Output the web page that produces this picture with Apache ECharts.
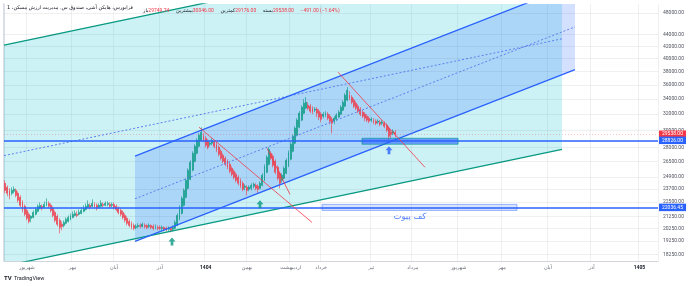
<!DOCTYPE html>
<html>
<head>
<meta charset="utf-8">
<script src="https://cdn.jsdelivr.net/npm/echarts@6/dist/echarts.min.js"></script>
<style>
  html, body { margin: 0; padding: 0; background: #fff; }
  #chart { width: 690px; height: 286px; }
</style>
</head>
<body>
<div id="chart"></div>
<script>
// Heikin Ashi daily candles
const haOpen = [
  24270,23880,23590,23310,23500,23590,23310,22940,22480,22130,
  21770,21430,21090,21170,21430,21690,21950,22130,22040,22220,
  22390,22220,21950,21600,21260,20920,20590,20500,20670,20830,
  21000,21170,21340,21430,21430,21510,21690,21860,22040,22220,
  22130,22300,22220,22040,22130,22300,22220,22300,22300,22220,
  22300,22130,21950,21770,21600,21340,21090,20830,20670,20500,
  20340,20420,20500,20420,20500,20500,20420,20500,20420,20340,
  20340,20340,20260,20340,20260,20180,20260,20180,20260,20500,
  21000,21510,22220,22940,23780,24660,25570,26500,27370,28150,
  28840,29300,29070,28720,28380,28490,28610,28380,28040,27590,
  27150,26830,26510,26190,25770,25460,25160,24860,24560,24270,
  23880,23880,23690,23780,23980,24070,23980,23780,24070,24560,
  25360,26190,27370,27040,26510,25880,25260,24560,24760,25260,
  25980,26720,27590,28490,29420,30380,31250,32140,32790,33180,
  33050,32790,32530,32660,32400,32010,31750,31880,32010,31750,
  31370,31120,31370,31630,32010,32530,33050,33860,34540,34270,
  33860,33450,33050,32660,32270,32010,31750,31500,31250,31250,
  31120,31000,31000,30870,30870,30630,30260,29780,29660,29749.74
];
const haClose = [
  23590,23310,23030,23590,23690,23120,22670,22220,21770,21430,
  21090,20830,21260,21600,21860,22130,22220,21950,22300,22480,
  22130,21770,21340,20920,20590,20340,20420,20750,21000,21170,
  21260,21430,21510,21340,21600,21770,21950,22130,22300,22040,
  22390,22130,21950,22220,22390,22220,22390,22390,22130,22300,
  22040,21860,21600,21430,21170,20920,20670,20500,20340,20260,
  20420,20500,20420,20590,20420,20340,20500,20340,20260,20420,
  20260,20260,20340,20180,20180,20260,20100,20340,20750,21340,
  22040,22850,23590,24560,25570,26400,27370,28150,28840,29420,
  29780,28840,28260,28040,28490,28720,28150,27700,27260,26830,
  26510,26190,25880,25460,25160,24860,24560,24270,23980,23690,
  23980,23590,23880,24070,24170,23780,23690,24270,25060,25980,
  26930,27810,26830,26080,25360,24760,24270,25060,25770,26610,
  27480,28380,29300,30260,31250,32140,32920,33450,33590,32790,
  32400,32270,32660,32140,31630,31370,32010,32140,31500,31120,
  30870,31500,31880,32270,32920,33590,34540,35240,34130,33590,
  33050,32790,32400,32010,31750,31500,31250,31120,31370,31000,
  30870,31120,30750,31000,30500,30020,29300,29540,29900,29538
];
const haLow = [
  23310,23030,22760,23120,23310,22940,22480,22040,21600,21260,
  20920,20670,20750,21090,21340,21600,21860,21770,21950,22130,
  21950,21600,21170,20750,20420,19860,20100,20340,20590,20750,
  20920,21090,21260,21170,21340,21430,21600,21770,21950,21860,
  22040,21950,21770,21950,22040,22040,22130,22130,21950,22040,
  21860,21690,21430,21260,21000,20750,20500,20340,20180,20100,
  20180,20260,20260,20340,20260,20180,20260,20180,20100,20180,
  20100,20100,20100,20020,20020,20020,19940,20020,20180,20420,
  20920,21430,22130,22850,23690,24560,25460,26400,27260,28040,
  28720,28610,28040,27810,28150,28260,27930,27480,27040,26610,
  26290,25980,25670,25260,24960,24660,24360,24070,23780,23500,
  23590,23120,23500,23590,23780,23590,23310,23690,23980,24460,
  25260,26080,26610,25880,25160,24560,23780,24360,24660,25160,
  25880,26610,27480,28380,29300,30260,31120,32010,32660,32530,
  32140,32010,32270,31630,31250,31000,31500,31630,31250,30750,
  29660,30750,31120,31500,31880,32400,32920,33720,33860,33320,
  32790,32530,32140,31750,31500,31120,31000,30870,31000,30750,
  30630,30750,30500,30630,30260,29780,28840,29070,29420,29176
];
const haHigh = [
  24560,24070,23780,23880,23980,23780,23500,23120,22670,22300,
  21950,21600,21340,21770,22040,22300,22480,22300,22570,22850,
  22570,22390,22130,21770,21430,21090,20830,20920,21170,21340,
  21510,21690,21770,21690,21860,22040,22220,22390,22670,22390,
  22760,22480,22390,22390,22670,22480,22570,22570,22480,22480,
  22480,22300,22130,21950,21770,21510,21260,21000,20830,20670,
  20590,20670,20670,20750,20670,20590,20670,20590,20590,20590,
  20500,20500,20500,20420,20420,20420,20340,20500,20920,21510,
  22220,23030,23780,24760,25770,26610,27590,28380,29070,29660,
  30380,29660,29300,28950,28720,29070,28840,28610,28260,27810,
  27370,27040,26720,26400,25980,25670,25360,25060,24760,24460,
  24170,24070,24070,24270,24360,24270,24170,24460,25260,26190,
  27150,28040,27590,27260,26720,26080,25460,25260,25980,26830,
  27700,28610,29540,30500,31500,32400,33180,33990,34270,33590,
  33320,33050,32920,32920,32660,32270,32270,32400,32270,32010,
  31630,31750,32140,32530,33180,33860,34820,35670,35100,34540,
  34130,33720,33320,32920,32530,32270,32010,31750,31630,31500,
  31370,31370,31250,31250,31120,30870,30500,30020,30140,30046
];

// time scale: bar slots across the plot (past bars + empty future)
const barSlots = 300;
const monthNames = ['شهریور','مهر','آبان','آذر','1404','بهمن','اردیبهشت','خرداد','تیر','مرداد','شهریور','مهر','آبان','آذر','1405'];
const monthBars = [10, 31, 50, 71, 92, 111, 131, 145, 168, 187, 208, 228, 249, 269, 291];

// price scale labels (log scale)
const priceTicks = [18250,19250,20250,21250,22500,23700,24900,26500,28000,30000,32000,34000,36000,38000,40000,42000,44000,48000];
const priceMin = 17778;
const priceMax = 49765;

// drawings, as [bar position, price]
const cyanUpper = [[0, 42215], [255.96, 67400]];
const cyanLower = [[0, 17412], [255.96, 27800]];
const cyanMid = [[0, 27111], [255.96, 43288]];
const blueUpper = [[60.09, 27057], [261.93, 53870]];
const blueLower = [[60.09, 19226], [261.93, 38278]];
const blueMid = [[60.09, 22810], [261.93, 45414]];
const trendA = [[89.45, 30379], [141.28, 20750]];
const trendB = [[120.64, 27923], [131.19, 23216]];
const trendC = [[153.21, 37880], [193.12, 25874]];
// boxes: [from bar, to bar, low price, high price]
const supportBox = [[164.2, 208.3, 28375, 29066]];
const pivotBox = [[145.9, 235.3, 21773, 22303]];
const pivotText = [[186.2, 21255]];
const greenArrows = [[77.06, 19226], [117.43, 22304]];
const blueArrows = [[176.6, 27701]];

// levels shown on the price scale
const closeLevel = 29538;
const blueLevels = [28826, 22036.45];

const UP = '#089981', DOWN = '#f23645', BLUE = '#2962ff';

const chart = echarts.init(document.getElementById('chart'));
const cats = Array.from({ length: barSlots }, (_, i) => String(i));
const candles = haOpen.map((o, i) => [o, haClose[i], haLow[i], haHigh[i]]);

const polygon = (pts, fill, z) => ({
  type: 'custom', xAxisIndex: 1, clip: true, z, silent: true,
  data: [cyanUpper[0]], encode: { x: 0, y: 1 },
  renderItem: (params, api) => ({
    type: 'polygon',
    shape: { points: pts.map(p => api.coord(p)) },
    style: { fill }
  })
});

const seg = (pts, color, width, type, z) => ({
  type: 'line', xAxisIndex: 1, data: pts, symbol: 'none', silent: true, z,
  lineStyle: { color, width, type }
});

const box = (rows, fill, stroke, z) => ({
  type: 'custom', xAxisIndex: 1, clip: true, z, silent: true,
  data: rows, encode: { x: [0, 1], y: [2, 3] },
  renderItem: (params, api) => {
    const a = api.coord([api.value(0), api.value(3)]);
    const b = api.coord([api.value(1), api.value(2)]);
    return {
      type: 'rect',
      shape: { x: a[0], y: a[1], width: b[0] - a[0], height: b[1] - a[1] },
      style: { fill, stroke, lineWidth: 1 }
    };
  }
});

const arrowPath = 'path://M5,0 L10,5 L7,5 L7,10 L3,10 L3,5 L0,5 Z';

const option = {
  animation: false,
  grid: { left: 4, right: 32, top: 4, bottom: 25 },
  xAxis: [
    {
      type: 'category', data: cats, boundaryGap: true,
      axisLine: { show: true, lineStyle: { color: '#d1d4dc', width: 1 } },
      axisTick: { show: false },
      axisLabel: {
        interval: (i) => monthBars.includes(i),
        formatter: (v, i) => {
          const k = monthBars.indexOf(+v);
          const t = monthNames[k] || '';
          return /^\d+$/.test(t) ? '{y|' + t + '}' : t;
        },
        fontSize: 5, color: '#6a6d78', margin: 4, fontFamily: 'DejaVu Sans',
        rich: { y: { fontSize: 5, color: '#131722', fontWeight: 'bold', fontFamily: 'Roboto' } }
      },
      splitLine: { show: true, interval: (i) => monthBars.includes(i), lineStyle: { color: 'rgba(42,46,57,0.07)', width: 1 } }
    },
    { type: 'value', min: 0, max: barSlots, show: false }
  ],
  yAxis: {
    type: 'log', logBase: 10, position: 'right', min: priceMin, max: priceMax,
    axisLine: { show: true, lineStyle: { color: '#d1d4dc', width: 1.5 } },
    axisTick: { show: false }, axisLabel: { show: false }, splitLine: { show: false }
  },
  series: [
    // price grid lines and scale labels
    {
      type: 'line', xAxisIndex: 1, data: [[0, 30000]], symbol: 'none', z: 0, silent: true,
      lineStyle: { opacity: 0 },
      markLine: {
        silent: true, symbol: ['none', 'none'], animation: false,
        lineStyle: { color: 'rgba(42,46,57,0.07)', width: 1, type: 'solid' },
        label: { position: 'end', distance: 5, formatter: p => p.value.toFixed(2), fontSize: 5, color: '#50535e', fontFamily: 'Roboto' },
        emphasis: { disabled: true },
        data: priceTicks.map(v => ({ yAxis: v }))
      }
    },
    polygon([cyanUpper[0], cyanUpper[1], cyanLower[1], cyanLower[0]], 'rgba(0,188,212,0.2)', 1),
    polygon([blueUpper[0], blueUpper[1], blueLower[1], blueLower[0]], 'rgba(41,98,255,0.2)', 1),
    {
      type: 'candlestick', data: candles, barWidth: 1.4, z: 3, silent: true,
      itemStyle: { color: UP, color0: DOWN, borderColor: UP, borderColor0: DOWN, borderWidth: 0.6 }
    },
    seg(cyanUpper, UP, 1.3, 'solid', 4),
    seg(cyanLower, UP, 1.3, 'solid', 4),
    seg(cyanMid, '#5b7ff0', 1, [2, 2], 4),
    seg(blueUpper, BLUE, 1.3, 'solid', 4),
    seg(blueLower, BLUE, 1.3, 'solid', 4),
    seg(blueMid, '#5b7ff0', 1, [2, 2], 4),
    seg(trendA, DOWN, 0.8, 'solid', 5),
    seg(trendB, DOWN, 0.8, 'solid', 5),
    seg(trendC, DOWN, 0.8, 'solid', 5),
    box(pivotBox, 'rgba(41,98,255,0.18)', 'rgba(41,98,255,0.45)', 5),
    box(supportBox, 'rgba(41,98,255,0.6)', 'rgba(0,150,136,0.6)', 5),
    {
      type: 'scatter', xAxisIndex: 1, data: pivotText, symbolSize: 0, z: 6, silent: true,
      label: { show: true, position: 'inside', formatter: 'کف پیوت', color: BLUE, fontSize: 8.5, fontFamily: 'DejaVu Sans' }
    },
    {
      type: 'scatter', xAxisIndex: 1, data: greenArrows, symbol: arrowPath, symbolSize: [7, 8], z: 6, silent: true,
      itemStyle: { color: UP }
    },
    {
      type: 'scatter', xAxisIndex: 1, data: blueArrows, symbol: arrowPath, symbolSize: [7, 8], z: 6, silent: true,
      itemStyle: { color: BLUE }
    },
    // horizontal levels with their price-scale badges
    {
      type: 'line', xAxisIndex: 1, data: [[0, 30000]], symbol: 'none', z: 8, silent: true,
      lineStyle: { opacity: 0 },
      markLine: {
        silent: true, symbol: ['none', 'none'], animation: false,
        emphasis: { disabled: true },
        label: {
          position: 'end', distance: 1, formatter: p => p.value.toFixed(2),
          fontSize: 5, color: '#fff', fontFamily: 'Roboto', padding: [1.5, 3, 1, 3]
        },
        data: [
          { yAxis: closeLevel, lineStyle: { color: 'rgba(242,54,69,0.3)', width: 1, type: [1, 2] }, label: { backgroundColor: DOWN } },
          ...blueLevels.map(v => ({ yAxis: v, lineStyle: { color: BLUE, width: 1.5, type: 'solid' }, label: { backgroundColor: BLUE } }))
        ]
      }
    }
  ],
  graphic: [
    {
      type: 'text', left: 7, top: 5, z: 20,
      style: {
        text: 'فرابورس، هایکن آشی، صندوق س. مدیریت ارزش مسکن، 1',
        fontSize: 5, fill: '#131722', fontFamily: 'DejaVu Sans'
      }
    },
    {
      type: 'text', left: 143, top: 5, z: 20,
      style: {
        text: '{l|باز}{v|29749.74}  {l|بیشترین}{v|30046.00}  {l|کمترین}{v|29176.00}  {l|بسته}{v|29538.00}  {v|−491.00 (−1.64%)}',
        rich: {
          l: { fontSize: 5, fill: '#131722', fontFamily: 'DejaVu Sans' },
          v: { fontSize: 5, fill: DOWN, fontFamily: 'Roboto' }
        }
      }
    },
    {
      type: 'text', left: 4, top: 275, z: 20,
      style: { text: 'TV', fontSize: 6, fontWeight: 'bold', fill: '#131722', fontFamily: 'Roboto' }
    },
    {
      type: 'text', left: 14, top: 275.5, z: 20,
      style: { text: 'TradingView', fontSize: 5.5, fill: '#131722', fontFamily: 'Roboto' }
    }
  ]
};

chart.setOption(option);
</script>
</body>
</html>
